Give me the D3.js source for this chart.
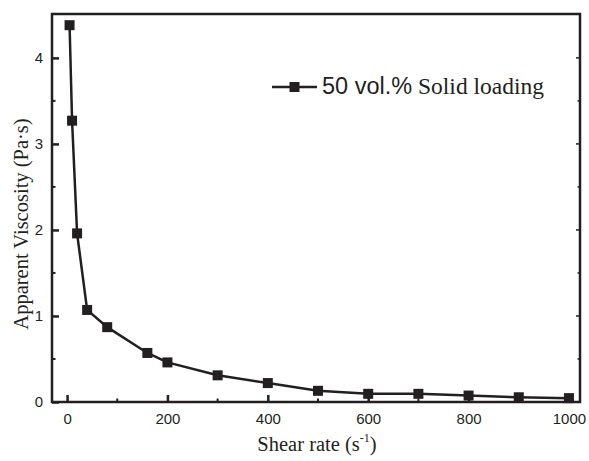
<!DOCTYPE html>
<html><head><meta charset="utf-8">
<script src="https://cdn.jsdelivr.net/npm/d3@7"></script>
<style>body{margin:0;background:#fff}svg{display:block}</style>
</head><body>
<script>
const shearRate = [5, 10, 20, 40, 80, 160, 200, 300, 400, 500, 600, 700, 800, 900, 1000];
const viscosity = [4.38, 3.27, 1.96, 1.07, 0.87, 0.57, 0.46, 0.31, 0.22, 0.13, 0.095, 0.095, 0.075, 0.055, 0.045];
const xTicks = [0, 200, 400, 600, 800, 1000];
const yTicks = [0, 1, 2, 3, 4];
const seriesName = ["50 vol.%", " Solid loading"];

const W = 589, H = 461;
const m = {left: 52, top: 14, right: 580, bottom: 402};
const svg = d3.select("body").append("svg").attr("width", W).attr("height", H);
const x = d3.scaleLinear().domain([-30, 1022]).range([m.left, m.right]);
const y = d3.scaleLinear().domain([0, 4.51]).range([m.bottom, m.top]);
const col = "#231f20";
const sans = "Liberation Sans, Arial, sans-serif";
const serif = "Liberation Serif, Times New Roman, serif";

// frame
svg.append("rect").attr("x", m.left).attr("y", m.top).attr("width", m.right - m.left).attr("height", m.bottom - m.top)
  .attr("fill", "none").attr("stroke", col).attr("stroke-width", 2.5);

// bottom axis
const xAx = svg.append("g").attr("transform", `translate(0,${m.bottom})`)
  .call(d3.axisBottom(x).tickValues(xTicks).tickSize(-7).tickPadding(11).tickFormat(d3.format("d")));
xAx.select(".domain").remove();
xAx.selectAll(".tick line").attr("stroke", col).attr("stroke-width", 2.5);
xAx.selectAll(".tick text").attr("font-family", sans).attr("font-size", 15).attr("fill", col);
// minor x ticks
svg.append("g").selectAll("line").data(d3.range(100, 1000, 200)).join("line")
  .attr("x1", d => x(d)).attr("x2", d => x(d)).attr("y1", m.bottom).attr("y2", m.bottom - 3.5)
  .attr("stroke", col).attr("stroke-width", 2);

// left axis
const yAx = svg.append("g").attr("transform", `translate(${m.left},0)`)
  .call(d3.axisLeft(y).tickValues(yTicks).tickSize(-7).tickPadding(9).tickFormat(d3.format("d")));
yAx.select(".domain").remove();
yAx.selectAll(".tick line").attr("stroke", col).attr("stroke-width", 2.5);
yAx.selectAll(".tick text").attr("font-family", sans).attr("font-size", 15).attr("fill", col);
// minor y ticks left
svg.append("g").selectAll("line").data([0.5, 1.5, 2.5, 3.5]).join("line")
  .attr("x1", m.left).attr("x2", m.left + 3.5).attr("y1", d => y(d)).attr("y2", d => y(d))
  .attr("stroke", col).attr("stroke-width", 2);
// right ticks
svg.append("g").selectAll("line").data([0.5, 1, 1.5, 2, 2.5, 3, 3.5, 4]).join("line")
  .attr("x1", m.right).attr("x2", d => m.right - (Number.isInteger(d) ? 4 : 2.5)).attr("y1", d => y(d)).attr("y2", d => y(d))
  .attr("stroke", col).attr("stroke-width", 1.5);

// data
const pts = shearRate.map((d, i) => [d, viscosity[i]]);
svg.append("path").datum(pts)
  .attr("d", d3.line().x(d => x(d[0])).y(d => y(d[1])))
  .attr("fill", "none").attr("stroke", col).attr("stroke-width", 2.5);
svg.append("g").selectAll("rect").data(pts).join("rect")
  .attr("x", d => x(d[0]) - 5).attr("y", d => y(d[1]) - 5).attr("width", 10).attr("height", 10)
  .attr("fill", col);

// legend
const ly = 87;
svg.append("line").attr("x1", 272).attr("x2", 317).attr("y1", ly).attr("y2", ly).attr("stroke", col).attr("stroke-width", 2.5);
svg.append("rect").attr("x", 289.5).attr("y", ly - 5).attr("width", 10).attr("height", 10).attr("fill", col);
const lt = svg.append("text").attr("x", 322).attr("y", 94).attr("font-size", 23.5).attr("fill", col);
lt.append("tspan").attr("font-family", sans).text(seriesName[0]);
lt.append("tspan").attr("font-family", serif).text(seriesName[1]);

// axis titles
const xt = svg.append("text").attr("x", 317).attr("y", 451).attr("text-anchor", "middle")
  .attr("font-family", serif).attr("font-size", 20.5).attr("fill", col);
xt.append("tspan").text("Shear rate (s");
xt.append("tspan").attr("font-size", 12).attr("dy", -9).text("-1");
xt.append("tspan").attr("dy", 9).text(")");

svg.append("text").attr("transform", "translate(28,224) rotate(-90)").attr("text-anchor", "middle")
  .attr("font-family", serif).attr("font-size", 20.5).attr("fill", col)
  .text("Apparent Viscosity (Pa·s)");
</script>
</body></html>
